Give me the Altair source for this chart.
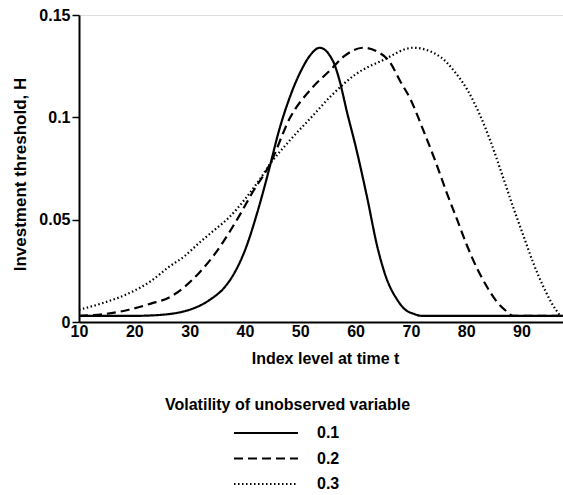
import altair as alt
import pandas as pd

# Series (x = index level, y = investment threshold H)
x_01 = [10, 20, 23, 26, 28, 30, 32, 34, 36, 38, 40, 42.5, 44.5, 46, 48, 50, 52, 53.5, 56, 57, 58.5,
        60, 62, 64, 65.5, 67.5, 69, 70.5, 72, 80, 97.5]
y_01 = [0.003, 0.003, 0.0032, 0.0038, 0.0046, 0.006, 0.0082, 0.0115, 0.016, 0.0235, 0.035, 0.056,
        0.076, 0.092, 0.109, 0.122, 0.131, 0.134, 0.127, 0.119, 0.102,
        0.086, 0.062, 0.036, 0.022, 0.011, 0.006, 0.004, 0.003, 0.003, 0.003]

x_02 = [10, 15, 19, 23, 26.3, 29, 31.7, 34.5, 37.1, 39, 41.3, 44.5, 48.2, 52, 55.4, 58, 61.4,
        64, 66.2, 68, 69.9, 72.2, 74.5, 76.5, 78.5, 80.2, 82, 83.8, 85.5, 87.4, 88.5, 97.5]
y_02 = [0.003, 0.004, 0.006, 0.009, 0.012, 0.017, 0.024, 0.033, 0.0435, 0.052, 0.063, 0.077,
        0.100, 0.114, 0.123, 0.130, 0.134, 0.132, 0.127, 0.118, 0.109, 0.094, 0.078, 0.063,
        0.049, 0.037, 0.026, 0.017, 0.010, 0.005, 0.003, 0.003]

x_03 = [10, 14, 19, 23, 26.3, 29, 31.7, 34.5, 37.1, 40, 42.5, 44.5, 48.2, 52, 55.4, 60, 65,
        70.4, 75.3, 78, 80.2, 82.5, 84.3, 86.5, 88.5, 90.5, 92.1, 94, 95.5, 97]
y_03 = [0.006, 0.009, 0.014, 0.020, 0.027, 0.032, 0.0386, 0.045, 0.051, 0.060, 0.069, 0.077,
        0.089, 0.100, 0.110, 0.121, 0.128, 0.134, 0.1296, 0.122, 0.1135, 0.101, 0.089, 0.072,
        0.056, 0.041, 0.029, 0.017, 0.009, 0.003]

series = ["0.1", "0.2", "0.3"]
x_ticks = [10, 20, 30, 40, 50, 60, 70, 80, 90]
y_ticks = [0, 0.05, 0.1, 0.15]

rows = []
for name, xs, ys in zip(series, [x_01, x_02, x_03], [y_01, y_02, y_03]):
    for i, (a, b) in enumerate(zip(xs, ys)):
        rows.append({"x": a, "y": b, "vol": name, "order": i})
df = pd.DataFrame(rows)

FONT = "Liberation Sans"

chart = alt.Chart(df).mark_line(
    color="black", strokeWidth=2.2, interpolate="monotone", strokeCap="butt"
).encode(
    x=alt.X("x:Q",
            scale=alt.Scale(domain=[10, 97.5], nice=False, zero=False),
            axis=alt.Axis(values=x_ticks, title="Index level at time t", grid=False,
                          ticks=False, tickSize=0, labelPadding=1,
                          labelFont=FONT, labelFontSize=16, labelFontWeight="bold",
                          labelColor="black", labelFlush=False,
                          titleFont=FONT, titleFontSize=16, titleFontWeight="bold",
                          titleColor="black", titleX=246, titleY=36,
                          titleBaseline="middle", titleAlign="center",
                          domainColor="black", domainWidth=2)),
    y=alt.Y("y:Q",
            scale=alt.Scale(domain=[0, 0.15], nice=False),
            axis=alt.Axis(values=y_ticks, format=".2~f", title="Investment threshold, H",
                          grid=False, tickSize=7, tickWidth=1.5, tickColor="black",
                          labelPadding=2, labelFont=FONT, labelFontSize=16,
                          labelFontWeight="bold", labelColor="black",
                          titleFont=FONT, titleFontSize=17, titleFontWeight="bold",
                          titleColor="black", titleX=-59, titleY=159,
                          titleAngle=-90, titleBaseline="middle", titleAlign="center",
                          titleLimit=400,
                          domainColor="black", domainWidth=2)),
    strokeDash=alt.StrokeDash(
        "vol:N",
        scale=alt.Scale(domain=series, range=[[1, 0], [9, 5], [1.5, 2.5]]),
        legend=alt.Legend(
            title="Volatility of unobserved variable", orient="none",
            legendX=86, legendY=382,
            titleFont=FONT, titleFontSize=16, titleFontWeight="bold",
            titleColor="black", titlePadding=12, titleLimit=500,
            labelFont=FONT, labelFontSize=16, labelFontWeight="bold",
            labelColor="black", labelOffset=18,
            symbolType="stroke", symbolSize=4096, symbolOffset=68,
            symbolStrokeColor="black", symbolStrokeWidth=2,
            clipHeight=16, rowPadding=9.5)),
    order="order:Q",
).properties(
    width=484, height=307,
    autosize=alt.AutoSizeParams(type="none"),
    padding={"left": 79, "top": 15, "right": 0, "bottom": 173},
).configure_view(stroke=None).configure(background="white")

chart.save("out.html", embed_options={"renderer": "svg", "actions": False})
